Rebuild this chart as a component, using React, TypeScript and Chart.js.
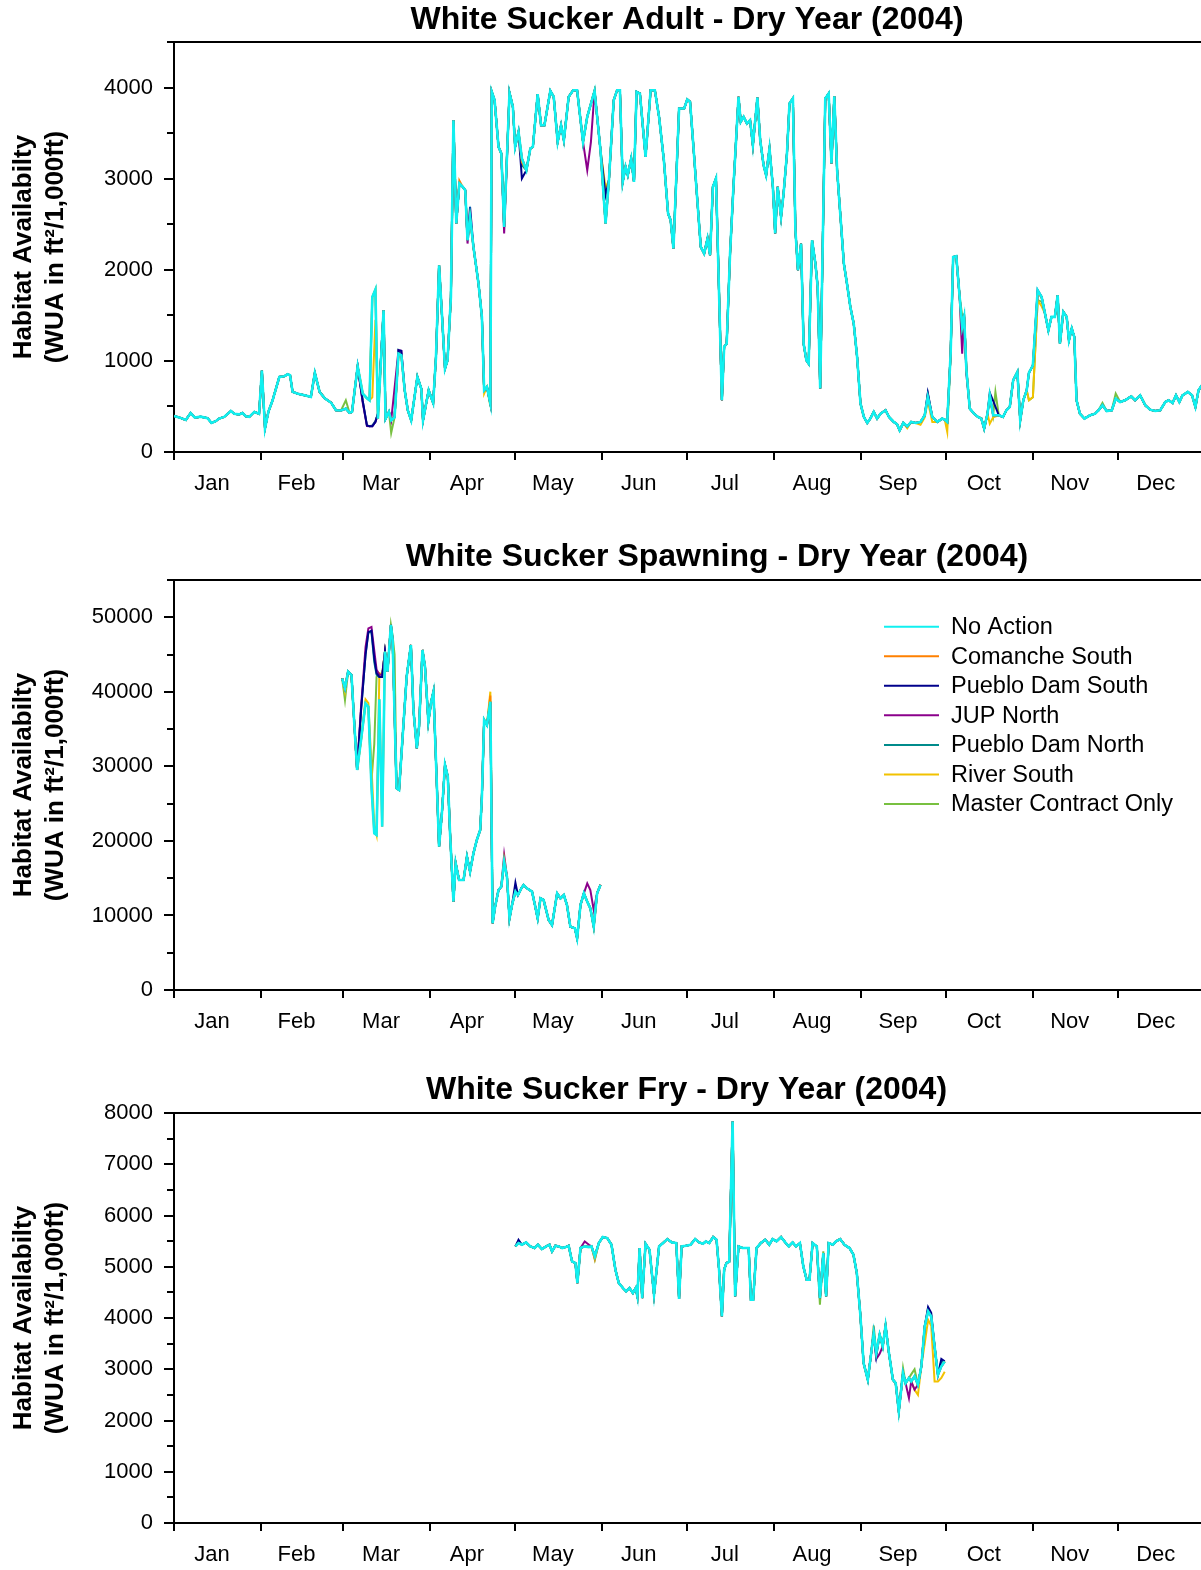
import React, { useEffect, useRef } from 'react';
import { Chart, registerables } from 'chart.js';

Chart.register(...registerables);

type Pt = [number, number];

const FONT = "'Liberation Sans', Arial, Helvetica, sans-serif";

// ---------- axis categories ----------
const monthLabels = ['Jan', 'Feb', 'Mar', 'Apr', 'May', 'Jun', 'Jul', 'Aug', 'Sep', 'Oct', 'Nov', 'Dec'];
const monthBoundaries = [0, 31, 60, 91, 121, 152, 182, 213, 244, 274, 305, 335, 366];

// ---------- series ----------
const seriesNames = ['No Action', 'Comanche South', 'Pueblo Dam South', 'JUP North', 'Pueblo Dam North', 'River South', 'Master Contract Only'];
const seriesColors = ['#10F0F0', '#FF8000', '#00008B', '#8B008B', '#008B8B', '#F2C200', '#78C040'];

// ---------- Adult (day of year, WUA) ----------
const adultNoAction: Pt[] = [
  [0, 395], [1.8, 380], [4.2, 352], [5.9, 428], [7.4, 378], [9.5, 388], [11.9, 372], [13.3, 320], [14.8, 338], [16, 367],
  [17.8, 385], [20.2, 450], [21.4, 420], [23.1, 413], [24.3, 428], [25.5, 392], [26.7, 385], [28.5, 440], [30.2, 420],
  [31.2, 895], [32.3, 258], [33.5, 440], [35, 568], [37.4, 824], [39.1, 831], [40.3, 853], [41.2, 842], [42.1, 660],
  [44, 640], [46.3, 622], [48.6, 605], [50, 868], [51.7, 659], [53.5, 590], [55.8, 540], [57.5, 458], [59.3, 455],
  [61, 476], [62.3, 430], [63.2, 440], [65.2, 941], [67, 641], [68.5, 590], [69.4, 568], [70.4, 1700], [71.5, 1783],
  [72.4, 366], [74.4, 1556], [75.1, 366], [76.3, 440], [77.1, 348], [78.3, 380], [79.7, 1080], [80.7, 1062], [81.9, 677],
  [83, 458], [84.2, 348], [86.4, 824], [87.8, 695], [88.4, 348], [90.4, 677], [92, 540], [93, 1043], [94.1, 2050],
  [95.1, 1519], [96.2, 915], [97.1, 1007], [98.3, 1702], [99.2, 3642], [100.2, 2507], [101.3, 2947], [102.5, 2910],
  [103.4, 2873], [104.2, 2324], [105.1, 2581], [106.3, 2251], [108.1, 1849], [109.3, 1483], [110.1, 677], [111.1, 714],
  [112.3, 531], [112.8, 3953], [113.8, 3862], [115.2, 3349], [116.2, 3276], [117.2, 2471], [119.1, 3942], [120.3, 3788],
  [121.1, 3349], [122.3, 3514], [123.5, 3221], [125.1, 3093], [126.5, 3331], [127.4, 3349], [129.1, 3928], [130.3, 3587],
  [131.5, 3587], [133.6, 3964], [134.8, 3898], [136.2, 3404], [137.4, 3587], [138.4, 3422], [140.1, 3898], [141.7, 3971],
  [143.1, 3971], [145.2, 3404], [146.7, 3679], [149.3, 3964], [151.4, 3313], [153.2, 2507], [154.4, 2983], [156.1, 3862],
  [157.3, 3971], [158.3, 3971], [159.3, 2965], [160.3, 3130], [161.1, 3038], [162.3, 3221], [163.3, 2965], [164.2, 3953],
  [165.4, 3935], [167.4, 3239], [169.2, 3971], [170.7, 3971], [172.2, 3679], [173.9, 3203], [175.4, 2617], [176.3, 2544],
  [177.3, 2233], [179.3, 3770], [181.1, 3770], [182.2, 3869], [183.2, 3843], [184.4, 3349], [185.6, 2837], [187, 2251],
  [188.2, 2178], [189.4, 2343], [190.3, 2160], [191.3, 2910], [192.4, 3002], [193.4, 1849], [194.5, 568], [195.3, 1153],
  [196.2, 1190], [197.4, 2178], [198.6, 2910], [200.4, 3898], [201.2, 3624], [202.2, 3679], [203.4, 3605], [204.5, 3642],
  [205.5, 3367], [207.1, 3891], [208.1, 3422], [209.3, 3148], [210.2, 3038], [211.4, 3331], [212.6, 2910], [213.4, 2398],
  [214.3, 2910], [215.5, 2581], [216.4, 2837], [217.6, 3276], [218.5, 3825], [219.7, 3880], [220.6, 2434], [221.5, 1995],
  [222.6, 2288], [223.5, 1190], [224.5, 1007], [225.3, 970], [226.5, 2324], [227.7, 2068], [228.5, 1812], [229.4, 696],
  [231.2, 3880], [232.4, 3935], [233.4, 3166], [234.4, 3905], [235.4, 3093], [236.6, 2581], [237.8, 2068], [238.9, 1849],
  [240.1, 1592], [241.3, 1409], [242.5, 1043], [243.7, 531], [244.9, 385], [246.1, 319], [247.2, 367], [248.4, 440],
  [249.6, 367], [250.8, 421], [252.6, 458], [253.8, 385], [255.5, 330], [256.7, 304], [257.6, 238], [258.9, 319],
  [260.3, 282], [261.7, 330], [263.3, 319], [265, 330], [266.5, 403], [267.6, 604], [269.2, 385], [271, 330], [272.7, 367],
  [273.6, 355], [274.5, 330], [275.7, 1080], [276.6, 2141], [277.7, 2149], [278.9, 1702], [279.8, 1373], [280.5, 1483],
  [281.3, 897], [282.5, 476], [284, 421], [285.4, 385], [286.6, 367], [287.6, 257], [288.8, 421], [289.6, 622], [290.8, 403],
  [292.8, 403], [294.3, 385], [295.5, 458], [296.7, 494], [297.9, 787], [299.4, 879], [300.4, 348], [301.5, 568], [302.7, 677],
  [303.5, 870], [304.9, 950], [306.6, 1775], [308, 1702], [309.2, 1519], [310.4, 1336], [311.5, 1483], [312.7, 1483],
  [313.7, 1721], [314.5, 1190], [315.7, 1538], [316.9, 1483], [317.7, 1226], [318.7, 1355], [319.6, 1263], [320.4, 568],
  [321.6, 421], [323.2, 367], [325.2, 403], [327, 421], [328.2, 458], [329.6, 513], [331.1, 450], [332.9, 458], [334.3, 586],
  [335.9, 549], [337.6, 568], [339.8, 611], [341.2, 568], [343, 622], [344.8, 513], [346.5, 465], [348.3, 450], [350.1, 458],
  [351.9, 549], [353.1, 568], [354.5, 538], [355.7, 622], [356.9, 549], [358, 622], [359.9, 659], [361.4, 622], [362.6, 494],
  [363.7, 677], [364.9, 732],
];
// days where the other alternatives differ visibly from No Action
const adultComancheSouth: Pt[] = [[101.3, 2980], [123.5, 3180], [306.6, 1740]];
const adultPuebloDamSouth: Pt[] = [[67, 560], [68.5, 290], [69.4, 282], [70.4, 282], [71.5, 330], [72.4, 421], [79.7, 1117], [80.7, 1110], [105.1, 2690], [123.5, 3002], [153.2, 2819], [267.6, 648], [289.6, 650], [290.8, 560], [306.6, 1750]];
const adultJupNorth: Pt[] = [[67, 540], [68.5, 285], [69.4, 282], [70.4, 282], [71.5, 330], [72.4, 421], [78.3, 700], [79.7, 1117], [80.7, 1110], [104.2, 2288], [117.2, 2398], [146.7, 3093], [148, 3400], [279.8, 1080], [281.3, 850]];
const adultPuebloDamNorth: Pt[] = [[67, 560], [68.5, 290], [69.4, 282], [70.4, 290], [71.5, 340], [72.4, 421], [79.7, 1110], [123.5, 3150], [267.6, 640], [289.6, 600]];
const adultRiverSouth: Pt[] = [[70.4, 600], [71.5, 1450], [72.4, 420], [110.1, 640], [112.3, 500], [153.2, 2900], [260.3, 260], [265, 300], [266.5, 380], [267.6, 560], [269.2, 330], [274.5, 220], [279.8, 1200], [289.6, 311], [290.8, 380], [303.5, 568], [304.9, 600], [306.6, 1666], [308, 1600]];
const adultMasterContract: Pt[] = [[61, 568], [77.1, 209], [279.8, 1501], [280.5, 1500], [291.6, 659], [303.5, 568], [304.9, 600], [306.6, 1666], [308, 1650], [329.6, 540], [334.3, 641]];

// ---------- Spawning ----------
const spawnNoAction: Pt[] = [
  [59.7, 41813], [60.7, 40471], [61.8, 42707], [63, 42260], [64, 35776], [65, 29515], [66.4, 33540], [68, 38459], [69, 38011],
  [70.1, 27279], [71.1, 21018], [71.9, 20794], [72.9, 39000], [73.9, 21900], [74.9, 45390], [75.8, 42707], [77, 48968],
  [77.6, 47000], [79, 27055], [79.9, 26832], [81.4, 35328], [82.6, 42036], [84.1, 46285], [85, 37564], [86.2, 32421],
  [87, 35328], [88.2, 45614], [89.1, 43378], [90.3, 35999], [91.3, 38682], [92.1, 40024], [92.9, 31751], [94.1, 19229],
  [95.1, 23701], [96.2, 30186], [97.2, 28620], [98, 21018], [99.2, 11850], [100, 16993], [101.2, 14757], [102.8, 14757],
  [104, 17888], [105.1, 15875], [106.3, 18335], [107.5, 20123], [108.7, 21465], [109.3, 25938], [110.1, 36222], [111.1, 35552],
  [112.3, 38682], [113.1, 8943], [114, 11179], [115.2, 13416], [116.2, 13863], [117.2, 17217], [118.2, 15204], [119.1, 9614],
  [120, 11403], [121.2, 13192], [122.1, 12745], [123.3, 13639], [124.1, 14086], [125.3, 13639], [127.1, 13192], [128, 11627],
  [129.1, 9614], [130.1, 12298], [131.2, 12074], [133, 9390], [134.2, 8719], [136, 12968], [137.2, 12298], [138.4, 12745],
  [139.5, 11403], [140.7, 8496], [142.3, 8272], [143.1, 6930], [144.3, 11403], [145.5, 12968], [146.7, 11850], [147.8, 10956],
  [149, 8496], [150.2, 12968], [151.4, 14086],
];
const spawnComancheSouth: Pt[] = [[112.3, 39500], [117.2, 17600]];
const spawnPuebloDamSouth: Pt[] = [[66.4, 37500], [68, 45000], [69, 48000], [70.1, 48200], [71.1, 44500], [71.9, 42500], [72.9, 42000], [73.9, 42000], [121.2, 14400]];
const spawnJupNorth: Pt[] = [[66.4, 38000], [68, 46000], [69, 48500], [70.1, 48700], [71.1, 45500], [71.9, 43000], [72.9, 42300], [73.9, 42300], [117.2, 18111], [146.7, 14310], [147.8, 13416], [149, 10732]];
const spawnPuebloDamNorth: Pt[] = [[66.4, 37500], [68, 45000], [69, 48000], [70.1, 48000], [71.1, 44000], [71.9, 42300], [72.9, 42000], [73.9, 42000]];
const spawnRiverSouth: Pt[] = [[60.7, 40000], [68, 39000], [69, 38500], [70.1, 30000], [71.1, 22000], [72.9, 42500], [73.9, 42300], [112.3, 40024], [117.2, 17000]];
const spawnMasterContract: Pt[] = [[60.7, 38906], [70.1, 28000], [71.1, 33000], [71.9, 42000], [72.9, 42400], [73.9, 42300], [77.6, 47500], [78.3, 45000]];

// ---------- Fry ----------
const fryNoAction: Pt[] = [
  [121.2, 5397], [122.3, 5462], [123.5, 5430], [125, 5475], [126.5, 5397], [128, 5365], [129.2, 5430], [130.6, 5345],
  [132.1, 5397], [133.3, 5430], [134.2, 5300], [135.4, 5410], [136.6, 5397], [137.8, 5365], [139, 5384], [140.1, 5410],
  [141.3, 5104], [142.5, 5072], [143.2, 4682], [144.3, 5365], [145.8, 5397], [147.3, 5384], [148.2, 5397], [149.4, 5202],
  [150.8, 5462], [152.2, 5579], [153.8, 5560], [155.3, 5430], [156.7, 4942], [157.9, 4682], [159.4, 4584], [160.5, 4519],
  [161.7, 4584], [162.9, 4487], [163.9, 4584], [164.5, 4422], [165.3, 5365], [166.2, 4389], [167.4, 5449], [168.8, 5332],
  [170.4, 4454], [172.2, 5397], [173.6, 5462], [175.1, 5540], [176.7, 5475], [178.3, 5462], [179.3, 4370], [180.2, 5397],
  [181.7, 5410], [183.4, 5430], [185, 5540], [186.4, 5475], [187.8, 5449], [188.8, 5495], [190, 5462], [191.4, 5579],
  [192.6, 5527], [193.5, 4942], [194.5, 4031], [195.3, 4942], [196.1, 5072], [197.1, 5100], [198.3, 7836], [199.2, 4422],
  [200.4, 5397], [201.8, 5365], [204, 5365], [204.8, 4357], [205.6, 4357], [206.8, 5365], [208.3, 5462], [209.9, 5527],
  [211.3, 5430], [212.5, 5540], [213.9, 5495], [215.5, 5579], [217, 5475], [218.2, 5397], [219.6, 5475], [220.8, 5397],
  [222.2, 5462], [223.4, 5007], [224.6, 4747], [225.6, 4747], [226.7, 5462], [228.2, 5397], [229.3, 4389], [230.5, 5267],
  [231.5, 4422], [232.4, 5462], [233.9, 5430], [235, 5495], [236.5, 5540], [238, 5430], [239.8, 5365], [241.2, 5235],
  [242.4, 4877], [243.6, 4096], [244.8, 3121], [246.3, 2796], [247.5, 3316], [248.4, 3706], [249.3, 3316], [250.5, 3674],
  [251.6, 3446], [252.6, 3849], [253.8, 3316], [255.2, 2796], [256.2, 2731], [257.3, 2178], [258.8, 2926], [259.7, 2731],
  [260.9, 2828], [261.7, 2763], [262.9, 2861], [264.1, 2698], [265.3, 3056], [266.5, 3836], [267.7, 4129], [268.8, 4031],
  [270, 3446], [271.2, 2893], [272.4, 3056], [273.6, 3153],
];
const fryComancheSouth: Pt[] = [[149.4, 5150]];
const fryPuebloDamSouth: Pt[] = [[122.3, 5527], [249.3, 3251], [267.7, 4213], [268.8, 4100], [272.4, 3199]];
const fryJupNorth: Pt[] = [[145.8, 5495], [147.3, 5430], [249.3, 3200], [250.5, 3300], [260.9, 2438], [262.9, 2600]];
const fryPuebloDamNorth: Pt[] = [[122.3, 5500], [267.7, 4180], [268.8, 4060], [272.4, 3150]];
const fryRiverSouth: Pt[] = [[262.9, 2600], [264.1, 2500], [266.5, 3500], [267.7, 3966], [268.8, 3850], [270, 2763], [271.2, 2763], [272.4, 2830], [273.6, 2950]];
const fryMasterContract: Pt[] = [[149.4, 5137], [229.3, 4259], [230.5, 5300], [248.4, 3850], [258.8, 3023], [261.7, 2900], [262.9, 3000]];

// ---------- helpers ----------
function withChanges(base: Pt[], changes: Pt[]): Pt[] {
  const m = new Map<number, number>();
  base.forEach(([d, v]) => m.set(d, v));
  changes.forEach(([d, v]) => m.set(d, v));
  return Array.from(m.entries()).sort((a, b) => a[0] - b[0]) as Pt[];
}

interface PanelSpec {
  title: string;
  titleX: number;
  titleY: number;
  top: number;
  height: number;
  padTop: number;
  xHeight: number;
  yMax: number;
  yMinor: number;
  yMajor: number;
  series: Pt[][];
  legend: boolean;
}

const labelShift = -2; // month labels sit slightly left of the month centre
const CANVAS_W = 1205;

const panels: PanelSpec[] = [
  {
    title: 'White Sucker Adult - Dry Year (2004)', titleX: 687, titleY: 20,
    top: 0, height: 520, padTop: 42, xHeight: 68,
    yMax: 4500, yMinor: 500, yMajor: 1000,
    series: [
      adultNoAction,
      withChanges(adultNoAction, adultComancheSouth),
      withChanges(adultNoAction, adultPuebloDamSouth),
      withChanges(adultNoAction, adultJupNorth),
      withChanges(adultNoAction, adultPuebloDamNorth),
      withChanges(adultNoAction, adultRiverSouth),
      withChanges(adultNoAction, adultMasterContract),
    ],
    legend: false,
  },
  {
    title: 'White Sucker Spawning - Dry Year (2004)', titleX: 717, titleY: 37,
    top: 520, height: 530, padTop: 60, xHeight: 60,
    yMax: 55000, yMinor: 5000, yMajor: 10000,
    series: [
      spawnNoAction,
      withChanges(spawnNoAction, spawnComancheSouth),
      withChanges(spawnNoAction, spawnPuebloDamSouth),
      withChanges(spawnNoAction, spawnJupNorth),
      withChanges(spawnNoAction, spawnPuebloDamNorth),
      withChanges(spawnNoAction, spawnRiverSouth),
      withChanges(spawnNoAction, spawnMasterContract),
    ],
    legend: true,
  },
  {
    title: 'White Sucker Fry - Dry Year (2004)', titleX: 686.5, titleY: 40,
    top: 1050, height: 520, padTop: 63, xHeight: 47,
    yMax: 8000, yMinor: 500, yMajor: 1000,
    series: [
      fryNoAction,
      withChanges(fryNoAction, fryComancheSouth),
      withChanges(fryNoAction, fryPuebloDamSouth),
      withChanges(fryNoAction, fryJupNorth),
      withChanges(fryNoAction, fryPuebloDamNorth),
      withChanges(fryNoAction, fryRiverSouth),
      withChanges(fryNoAction, fryMasterContract),
    ],
    legend: false,
  },
];

function Panel({ spec }: { spec: PanelSpec }) {
  const ref = useRef<HTMLCanvasElement>(null);

  useEffect(() => {
    const canvas = ref.current;
    if (!canvas) return;
    const labelTicks = monthLabels.map((_, i) => (monthBoundaries[i] + monthBoundaries[i + 1]) / 2 + labelShift);
    const allXTicks = [...monthBoundaries, ...labelTicks].sort((a, b) => a - b);

    const decor = {
      id: 'decor',
      afterDraw(chart: any) {
        const { ctx, chartArea } = chart;
        const { left, right, top, bottom } = chartArea;
        const ys = chart.scales.y;
        const xs = chart.scales.x;
        ctx.save();
        ctx.strokeStyle = '#000';
        ctx.lineWidth = 2;
        ctx.beginPath();
        ctx.moveTo(left - 1, top);
        ctx.lineTo(right, top);
        ctx.stroke();
        // y ticks (major / minor)
        ctx.beginPath();
        ys.ticks.forEach((t: any) => {
          const py = Math.round(ys.getPixelForValue(t.value));
          const len = t.value % spec.yMajor === 0 ? 10 : 7;
          ctx.moveTo(left - len, py);
          ctx.lineTo(left, py);
        });
        ctx.stroke();
        // x ticks at month boundaries
        ctx.beginPath();
        monthBoundaries.forEach((d) => {
          const px = Math.round(xs.getPixelForValue(d));
          ctx.moveTo(px, bottom);
          ctx.lineTo(px, bottom + 8);
        });
        ctx.stroke();
        // title
        ctx.fillStyle = '#000';
        ctx.font = `bold 32px ${FONT}`;
        ctx.textAlign = 'center';
        ctx.textBaseline = 'middle';
        ctx.fillText(spec.title, spec.titleX, spec.titleY);
        // legend
        if (spec.legend) {
          const ds = chart.data.datasets;
          const lx = 884;
          const ly0 = top + 46.7;
          const step = 29.55;
          ctx.font = `23.5px ${FONT}`;
          ctx.textAlign = 'left';
          ds.forEach((d: any, i: number) => {
            const y = ly0 + i * step;
            ctx.strokeStyle = d.borderColor;
            ctx.lineWidth = 2;
            ctx.beginPath();
            ctx.moveTo(lx, y);
            ctx.lineTo(lx + 55, y);
            ctx.stroke();
            ctx.fillStyle = '#000';
            ctx.fillText(d.label, lx + 67, y + 1);
          });
        }
        ctx.restore();
      },
    };

    const chart = new Chart(canvas, {
      type: 'line',
      data: {
        datasets: spec.series.map((pts, i) => ({
          label: seriesNames[i],
          data: pts.map(([x, y]) => ({ x, y })),
          borderColor: seriesColors[i],
          backgroundColor: seriesColors[i],
          borderWidth: i === 0 ? 2.6 : 2,
          pointRadius: 0,
          tension: 0,
          fill: false,
        })),
      },
      options: {
        animation: false,
        responsive: false,
        devicePixelRatio: 1,
        events: [],
        layout: { padding: { top: spec.padTop, left: 0, right: 0, bottom: 0 } },
        plugins: {
          legend: { display: false },
          tooltip: { enabled: false },
          title: { display: false },
        },
        scales: {
          x: {
            type: 'linear',
            min: 0,
            max: 366,
            afterBuildTicks: (s: any) => {
              s.ticks = allXTicks.map((v) => ({ value: v }));
            },
            afterFit: (s: any) => {
              s.height = spec.xHeight;
              s.paddingLeft = 0;
              s.paddingRight = 0;
            },
            ticks: {
              autoSkip: false,
              maxRotation: 0,
              minRotation: 0,
              padding: 11,
              color: '#000',
              font: { family: FONT, size: 22 },
              callback: (v: any) => {
                const i = labelTicks.findIndex((t) => Math.abs(t - Number(v)) < 1e-6);
                return i >= 0 ? monthLabels[i] : '';
              },
            },
            grid: {
              drawOnChartArea: false,
              drawTicks: true,
              tickLength: 8,
              tickWidth: 2,
              tickColor: 'rgba(0,0,0,0)',
            },
            border: { color: '#000', width: 2 },
          },
          y: {
            type: 'linear',
            min: 0,
            max: spec.yMax,
            afterFit: (s: any) => {
              s.width = 174;
            },
            ticks: {
              stepSize: spec.yMinor,
              autoSkip: false,
              padding: 21,
              color: '#000',
              font: { family: FONT, size: 22 },
              callback: (v: any) => (Number(v) % spec.yMajor === 0 ? String(v) : ''),
            },
            grid: { drawOnChartArea: false, drawTicks: false },
            border: { color: '#000', width: 2 },
            title: {
              display: true,
              text: ['Habitat Availabilty', '(WUA in ft\u00B2/1,000ft)'],
              color: '#000',
              font: { family: FONT, size: 26, weight: 'bold', lineHeight: 1.23 },
              padding: { top: 8, bottom: 0 },
            },
          },
        },
      },
      plugins: [decor],
    } as any);
    return () => chart.destroy();
  }, [spec]);

  return (
    <div style={{ position: 'absolute', left: 0, top: spec.top, width: 1201, height: spec.height, overflow: 'hidden' }}>
      <canvas ref={ref} width={CANVAS_W} height={spec.height} style={{ display: 'block', width: CANVAS_W, height: spec.height }} />
    </div>
  );
}

export default function App() {
  return (
    <div style={{ position: 'absolute', left: 0, top: 0, width: 1201, height: 1570, overflow: 'hidden', background: '#fff' }}>
      {panels.map((p, i) => (
        <Panel key={i} spec={p} />
      ))}
    </div>
  );
}
